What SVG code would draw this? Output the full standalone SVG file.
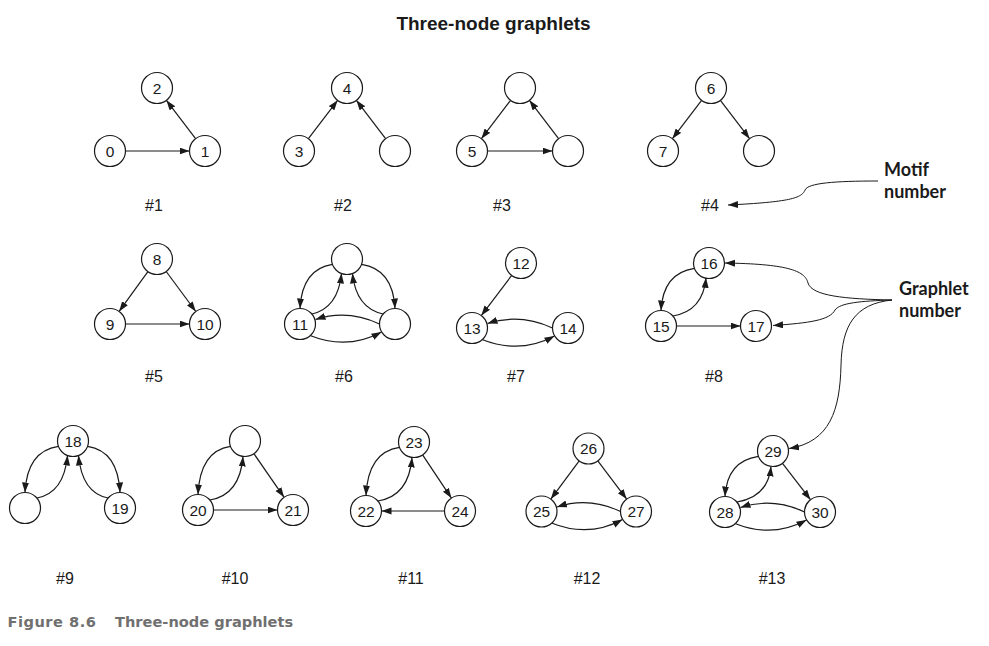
<svg xmlns="http://www.w3.org/2000/svg" width="989" height="646" viewBox="0 0 989 646">
<defs>
<marker id="ah" markerUnits="userSpaceOnUse" markerWidth="11" markerHeight="8" refX="10" refY="3.5" orient="auto">
<path d="M0,0 L10,3.5 L0,7 z" fill="#1a1a1a"/>
</marker>
<style>
.e{fill:none;stroke:#1a1a1a;stroke-width:1.2;marker-end:url(#ah)}
.a{fill:none;stroke:#1a1a1a;stroke-width:1;marker-end:url(#ah)}
circle{fill:#fff;stroke:#1a1a1a;stroke-width:1.2}
.t{font-family:"Liberation Sans",Arial,sans-serif;font-size:15.5px;fill:#1a1a1a;text-anchor:middle}
.h{font-family:"Liberation Sans",Arial,sans-serif;font-size:16px;fill:#1a1a1a;text-anchor:middle}
.ann{font-family:Lato,"Open Sans",sans-serif;font-size:18px;font-weight:bold;fill:#1a1a1a}
.title{font-family:"Liberation Sans",Arial,sans-serif;font-size:19px;font-weight:bold;fill:#1a1a1a;text-anchor:middle}
.cap{font-family:"DejaVu Sans",Verdana,sans-serif;font-size:14.6px;font-weight:bold;fill:#707070}
</style>
</defs>
<rect width="989" height="646" fill="#fff"/>
<text class="title" x="493.5" y="29.5">Three-node graphlets</text>

<g id="connectors">
<!-- #1 -->
<path class="e" d="M125.5,151 L189.5,151"/>
<path class="e" d="M195.6,138.7 L166.4,100.3"/>
<!-- #2 -->
<path class="e" d="M308.4,138.7 L337.6,100.3"/>
<path class="e" d="M385.6,138.7 L356.4,100.3"/>
<!-- #3 -->
<path class="e" d="M510.6,100.3 L481.4,138.7"/>
<path class="e" d="M487.5,151 L552.5,151"/>
<path class="e" d="M558.6,138.7 L529.4,100.3"/>
<!-- #4 -->
<path class="e" d="M701.6,100.3 L672.4,138.7"/>
<path class="e" d="M720.4,100.3 L749.6,138.7"/>
<!-- #5 -->
<path class="e" d="M147.9,271.6 L119.1,311.4"/>
<path class="e" d="M166.2,271.5 L195.8,311.5"/>
<path class="e" d="M125.5,324 L189.5,324"/>
<!-- #6 -->
<path class="e" d="M332.4,264.3 Q302,269 300,308.5"/>
<path class="e" d="M311.9,314 Q338,308 341.5,273.5"/>
<path class="e" d="M361.6,264.3 Q393,269 395,308.5"/>
<path class="e" d="M383.1,314 Q356,308 352.5,273.5"/>
<path class="e" d="M379.5,324 Q347.5,309 315.5,319.5"/>
<path class="e" d="M310,335.5 Q347.5,350.5 381.5,332"/>
<!-- #7 -->
<path class="e" d="M511.7,275.4 L481.3,315.6"/>
<path class="e" d="M552.5,328 Q520,313 487.5,323.5"/>
<path class="e" d="M482,339.5 Q520,354.5 554.5,336"/>
<!-- #8 -->
<path class="e" d="M694.4,268.3 Q663,273 661,310.5"/>
<path class="e" d="M672.9,316 Q703,311 706,277.8"/>
<path class="e" d="M676.5,326 L740.5,326"/>
<!-- #9 -->
<path class="e" d="M58.4,446.3 Q27,451 25,492.5"/>
<path class="e" d="M36.9,498 Q64,493 67.5,455.5"/>
<path class="e" d="M87.6,446.3 Q118,451 120,492.5"/>
<path class="e" d="M108.1,498 Q82,493 78.5,455.5"/>
<!-- #10 -->
<path class="e" d="M230.4,446.3 Q200,451 198,494.5"/>
<path class="e" d="M209.9,500 Q240,495 243,456.4"/>
<path class="e" d="M253.9,453.7 L284.1,497.3"/>
<path class="e" d="M213.5,510 L277.5,510"/>
<!-- #11 -->
<path class="e" d="M399.4,447.3 Q368,452 366,495.5"/>
<path class="e" d="M377.9,501 Q409,496 412,457.4"/>
<path class="e" d="M422.6,454.9 L451.4,498.1"/>
<path class="e" d="M444.5,511 L381.5,511"/>
<!-- #12 -->
<path class="e" d="M579.2,460.9 L550.8,499.1"/>
<path class="e" d="M597.8,460.9 L626.7,499.1"/>
<path class="e" d="M620.5,511.5 Q588.75,496.5 557,507"/>
<path class="e" d="M551.5,523 Q588.75,538 622.5,519.5"/>
<!-- #13 -->
<path class="e" d="M758.4,456.3 Q727,461 725,496.5"/>
<path class="e" d="M736.9,502 Q768,497 771,466.4"/>
<path class="e" d="M782.5,463.3 L810.5,499.7"/>
<path class="e" d="M804.5,512 Q772.5,497 740.5,507.5"/>
<path class="e" d="M735,523.5 Q772.5,538.5 806.5,520"/>
<!-- annotations -->
<path class="a" d="M878,181 C835,181 808,183 805,190 C802,198 790,202 728,205"/>
<path class="a" d="M892,300 C845,299 812,296 808,283 C805,270 785,264 725,263"/>
<path class="a" d="M892,300 C860,301 840,303 835,310 C830,320 810,323 773,325.5"/>
<path class="a" d="M892,300 C855,304 842,325 841,365 C840,410 830,442 789,448.5"/>
</g>

<g id="g1">
<g id="n0"><circle cx="110" cy="151" r="15.5"/><text class="t" x="110" y="156.5">0</text></g>
<g id="n1"><circle cx="205" cy="151" r="15.5"/><text class="t" x="205" y="156.5">1</text></g>
<g id="n2"><circle cx="157" cy="88" r="15.5"/><text class="t" x="157" y="93.5">2</text></g>
</g>
<g id="g2">
<g id="n3"><circle cx="299" cy="151" r="15.5"/><text class="t" x="299" y="156.5">3</text></g>
<g id="n2u"><circle cx="395" cy="151" r="15.5"/></g>
<g id="n4"><circle cx="347" cy="88" r="15.5"/><text class="t" x="347" y="93.5">4</text></g>
</g>
<g id="g3">
<g id="n5"><circle cx="472" cy="151" r="15.5"/><text class="t" x="472" y="156.5">5</text></g>
<g id="n3r"><circle cx="568" cy="151" r="15.5"/></g>
<g id="n3t"><circle cx="520" cy="88" r="15.5"/></g>
</g>
<g id="g4">
<g id="n6"><circle cx="711" cy="88" r="15.5"/><text class="t" x="711" y="93.5">6</text></g>
<g id="n7"><circle cx="663" cy="151" r="15.5"/><text class="t" x="663" y="156.5">7</text></g>
<g id="n4r"><circle cx="759" cy="151" r="15.5"/></g>
</g>
<g id="g5">
<g id="n8"><circle cx="157" cy="259" r="15.5"/><text class="t" x="157" y="264.5">8</text></g>
<g id="n9"><circle cx="110" cy="324" r="15.5"/><text class="t" x="110" y="329.5">9</text></g>
<g id="n10"><circle cx="205" cy="324" r="15.5"/><text class="t" x="205" y="329.5">10</text></g>
</g>
<g id="g6">
<g id="n6t"><circle cx="347" cy="259" r="15.5"/></g>
<g id="n11"><circle cx="300" cy="324" r="15.5"/><text class="t" x="300" y="329.5">11</text></g>
<g id="n6r"><circle cx="395" cy="324" r="15.5"/></g>
</g>
<g id="g7">
<g id="n12"><circle cx="521" cy="263" r="15.5"/><text class="t" x="521" y="268.5">12</text></g>
<g id="n13"><circle cx="472" cy="328" r="15.5"/><text class="t" x="472" y="333.5">13</text></g>
<g id="n14"><circle cx="568" cy="328" r="15.5"/><text class="t" x="568" y="333.5">14</text></g>
</g>
<g id="g8">
<g id="n16"><circle cx="709" cy="263" r="15.5"/><text class="t" x="709" y="268.5">16</text></g>
<g id="n15"><circle cx="661" cy="326" r="15.5"/><text class="t" x="661" y="331.5">15</text></g>
<g id="n17"><circle cx="756" cy="326" r="15.5"/><text class="t" x="756" y="331.5">17</text></g>
</g>
<g id="g9">
<g id="n18"><circle cx="73" cy="441" r="15.5"/><text class="t" x="73" y="446.5">18</text></g>
<g id="n9l"><circle cx="25" cy="508" r="15.5"/></g>
<g id="n19"><circle cx="120" cy="508" r="15.5"/><text class="t" x="120" y="513.5">19</text></g>
</g>
<g id="g10">
<g id="n10t"><circle cx="245" cy="441" r="15.5"/></g>
<g id="n20"><circle cx="198" cy="510" r="15.5"/><text class="t" x="198" y="515.5">20</text></g>
<g id="n21"><circle cx="293" cy="510" r="15.5"/><text class="t" x="293" y="515.5">21</text></g>
</g>
<g id="g11">
<g id="n23"><circle cx="414" cy="442" r="15.5"/><text class="t" x="414" y="447.5">23</text></g>
<g id="n22"><circle cx="366" cy="511" r="15.5"/><text class="t" x="366" y="516.5">22</text></g>
<g id="n24"><circle cx="460" cy="511" r="15.5"/><text class="t" x="460" y="516.5">24</text></g>
</g>
<g id="g12">
<g id="n26"><circle cx="588.5" cy="448.5" r="15.5"/><text class="t" x="588.5" y="454">26</text></g>
<g id="n25"><circle cx="541.5" cy="511.5" r="15.5"/><text class="t" x="541.5" y="517">25</text></g>
<g id="n27"><circle cx="636" cy="511.5" r="15.5"/><text class="t" x="636" y="517">27</text></g>
</g>
<g id="g13">
<g id="n29"><circle cx="773" cy="451" r="15.5"/><text class="t" x="773" y="456.5">29</text></g>
<g id="n28"><circle cx="725" cy="512" r="15.5"/><text class="t" x="725" y="517.5">28</text></g>
<g id="n30"><circle cx="820" cy="512" r="15.5"/><text class="t" x="820" y="517.5">30</text></g>
</g>

<g id="motif-labels">
<text class="h" x="154" y="211">#1</text>
<text class="h" x="343" y="211">#2</text>
<text class="h" x="502" y="211">#3</text>
<text class="h" x="710" y="211">#4</text>
<text class="h" x="154" y="382">#5</text>
<text class="h" x="344" y="382">#6</text>
<text class="h" x="516" y="382">#7</text>
<text class="h" x="714" y="382">#8</text>
<text class="h" x="65" y="584">#9</text>
<text class="h" x="235" y="584">#10</text>
<text class="h" x="411" y="584">#11</text>
<text class="h" x="587" y="584">#12</text>
<text class="h" x="772" y="584">#13</text>
</g>

<g id="annotations">
<text class="ann" x="884" y="176">Motif</text>
<text class="ann" x="884" y="198">number</text>
<text class="ann" x="899" y="295">Graphlet</text>
<text class="ann" x="899" y="317">number</text>
</g>

<text class="cap" y="627"><tspan x="7.5" letter-spacing="0.5">Figure 8.6</tspan><tspan x="115">Three-node graphlets</tspan></text>
</svg>
